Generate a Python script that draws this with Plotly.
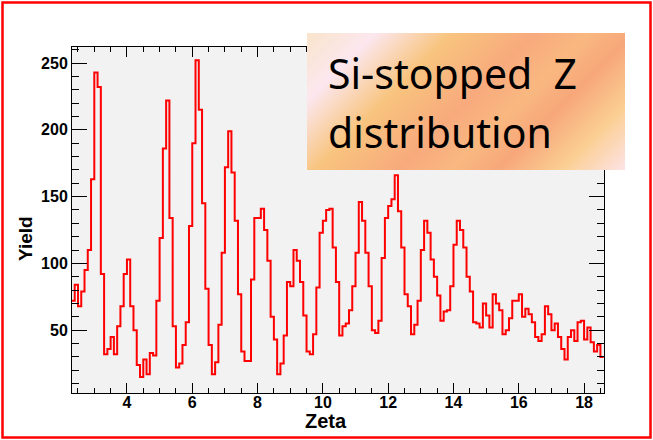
import base64
import numpy as np
import plotly.graph_objects as go

# ---------------- data ----------------
bin_start = 2.3
bin_width = 0.1
yield_counts = [
    72, 84, 68, 79, 95, 110, 163, 243, 232, 92,      # 2.3 - 3.2
    32, 36, 45, 32, 53, 68, 92, 103, 68, 50,         # 3.3 - 4.2
    24, 15, 28, 17, 33, 31, 72, 119, 186, 222,       # 4.3 - 5.2
    134, 53, 22, 25, 39, 56, 128, 190, 252, 215,     # 5.3 - 6.2
    145, 81, 39, 17, 26, 54, 108, 172, 199, 168,     # 6.3 - 7.2
    132, 77, 34, 27, 27, 88, 134, 134, 141, 125,     # 7.3 - 8.2
    102, 60, 43, 17, 25, 46, 86, 83, 110, 102,       # 8.3 - 9.2
    86, 61, 34, 32, 47, 82, 123, 132, 140, 141,      # 9.3 - 10.2
    112, 86, 46, 53, 55, 65, 83, 108, 146, 132,      # 10.3 - 11.2
    108, 83, 50, 48, 57, 104, 134, 143, 148, 166,    # 11.3 - 12.2
    139, 112, 77, 68, 47, 54, 72, 110, 132, 123,     # 12.3 - 13.2
    103, 90, 76, 57, 64, 65, 83, 114, 132, 125,      # 13.3 - 14.2
    112, 90, 79, 56, 55, 52, 70, 61, 52, 77,         # 14.3 - 15.2
    70, 65, 47, 50, 59, 72, 72, 77, 60, 66,          # 15.3 - 16.2
    62, 56, 45, 42, 47, 68, 62, 50, 55, 45,          # 16.3 - 17.2
    36, 28, 45, 50, 42, 56, 57, 43, 52, 41,          # 17.3 - 18.2
    34, 39, 30,                                      # 18.3 - 18.5
]
x_range = [2.317, 18.61]
y_range = [3, 262]
x_title = "Zeta"
y_title = "Yield"
box_lines = ["Si-stopped\u00a0 Z", "distribution"]

# ---------------- layout geometry ----------------
W, H = 653, 440
ML, MR, MT, MB = 72, 49, 47, 47
PW, PH = W - ML - MR, H - MT - MB


def px(x):
    return (x - ML) / PW


def py(y):
    return (H - MB - y) / PH


edges = bin_start + bin_width * np.arange(len(yield_counts) + 1)
y_step = list(yield_counts) + [yield_counts[-1]]

fig = go.Figure()
fig.add_trace(go.Scatter(
    x=edges, y=y_step, mode="lines",
    line=dict(color="#FF0000", width=2, shape="hv"),
    hoverinfo="skip", showlegend=False,
))

tickfont = dict(family="Liberation Sans, Arial, sans-serif", size=16,
                color="black", weight="bold")

fig.update_xaxes(
    range=x_range, showline=True, linecolor="black", linewidth=1,
    mirror="ticks", ticks="inside", ticklen=10, tickwidth=1,
    tickcolor="black", tick0=0, dtick=2, tickfont=tickfont,
    ticklabelstandoff=-5,
    showgrid=False, zeroline=False,
    minor=dict(ticks="inside", tick0=0, dtick=0.5, ticklen=5,
               tickcolor="black", tickwidth=1, showgrid=False),
)
fig.update_yaxes(
    range=y_range, showline=True, linecolor="black", linewidth=1,
    mirror="ticks", ticks="inside", ticklen=15, tickwidth=1,
    tickcolor="black", tick0=0, dtick=50, tickfont=tickfont,
    showgrid=False, zeroline=False,
    minor=dict(ticks="inside", tick0=0, dtick=10, ticklen=7,
               tickcolor="black", tickwidth=1, showgrid=False),
)

# gradient text box as an SVG image
bx0, by0, bx1, by1 = 307, 33, 625, 170
bw, bh = bx1 - bx0, by1 - by0
g = (bw + bh) / 2
stops = [
    (0.00, "#F9E4CB"), (0.15, "#FCE7EF"), (0.32, "#F8C47E"),
    (0.50, "#F8AA7D"), (0.62, "#F9B880"), (0.72, "#F7A77A"),
    (0.86, "#FBCF94"), (1.00, "#FDE3E6"),
]
stop_xml = "".join(f'<stop offset="{o}" stop-color="{c}"/>' for o, c in stops)
svg = (f'<svg xmlns="http://www.w3.org/2000/svg" width="{bw}" height="{bh}" '
       f'viewBox="0 0 {bw} {bh}" preserveAspectRatio="none">'
       f'<defs><linearGradient id="g" gradientUnits="userSpaceOnUse" '
       f'x1="0" y1="0" x2="{g}" y2="{g}">{stop_xml}</linearGradient></defs>'
       f'<rect x="0" y="0" width="{bw}" height="{bh}" fill="url(#g)"/></svg>')
src = "data:image/svg+xml;base64," + base64.b64encode(svg.encode()).decode()

fig.add_layout_image(dict(
    source=src, xref="paper", yref="paper",
    x=px(bx0), y=py(by0), sizex=bw / PW, sizey=bh / PH,
    xanchor="left", yanchor="top", sizing="stretch", layer="above",
))

box_font = dict(family="Noto Sans, Open Sans, sans-serif", size=41,
                color="black")
annotations = [
    dict(text=box_lines[0], x=px(326), y=py(73), xanchor="left",
         yanchor="middle", showarrow=False, xref="paper", yref="paper",
         font=box_font),
    dict(text=box_lines[1], x=px(326), y=py(132), xanchor="left",
         yanchor="middle", showarrow=False, xref="paper", yref="paper",
         font=box_font),
    dict(text=y_title, x=px(26), y=py(239), textangle=-90, xanchor="center",
         yanchor="middle", showarrow=False, xref="paper", yref="paper",
         font=dict(family="Liberation Sans, Arial, sans-serif", size=19,
                   color="black", weight="bold")),
    dict(text=x_title, x=px(326), y=py(421), xanchor="center",
         yanchor="middle", showarrow=False, xref="paper", yref="paper",
         font=dict(family="Liberation Sans, Arial, sans-serif", size=20,
                   color="black", weight="bold")),
]

shapes = [
    dict(type="rect", xref="paper", yref="paper",
         x0=px(2.5), x1=px(650.5), y0=py(437.5), y1=py(2.5),
         line=dict(color="#FF0000", width=2.5), fillcolor="rgba(0,0,0,0)",
         layer="above"),
]

fig.update_layout(
    width=W, height=H, autosize=False,
    margin=dict(l=ML, r=MR, t=MT, b=MB, pad=0),
    paper_bgcolor="white", plot_bgcolor="#F2F2F2",
    annotations=annotations, shapes=shapes, showlegend=False,
)

fig.write_html("out.html")
